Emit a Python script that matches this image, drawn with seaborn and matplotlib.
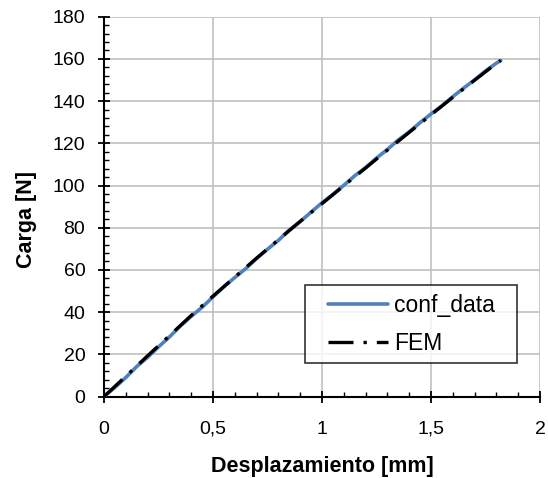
import matplotlib
matplotlib.use("Agg")
import matplotlib.pyplot as plt
import seaborn as sns
import pandas as pd
from matplotlib.ticker import MultipleLocator, FuncFormatter
from matplotlib.legend_handler import HandlerLine2D

# Data
conf_x = [0.0, 0.05, 0.1, 0.15, 0.2, 0.25, 0.3, 0.35, 0.4, 0.45, 0.5, 0.55, 0.6, 0.65,
          0.7, 0.75, 0.8, 0.85, 0.9, 0.95, 1.0, 1.05, 1.1, 1.15, 1.2, 1.25, 1.3, 1.35,
          1.4, 1.45, 1.5, 1.55, 1.6, 1.65, 1.7, 1.75, 1.8, 1.82]
conf_y = [0.0, 4.3, 9.0, 14.2, 18.6, 23.5, 28.2, 33.4, 38.0, 42.3, 47.2, 52.0, 56.4, 60.6,
          65.4, 69.8, 74.0, 78.9, 82.9, 87.4, 91.8, 95.8, 100.1, 104.6, 108.5, 113.0, 117.1, 121.6,
          125.4, 129.8, 133.9, 137.8, 142.1, 146.2, 150.1, 154.3, 158.0, 159.2]
fem_x = [0.0, 0.1, 0.2, 0.3, 0.4, 0.5, 0.6, 0.7, 0.8, 0.9, 1.0, 1.1, 1.2, 1.3, 1.4,
         1.5, 1.6, 1.7, 1.8, 1.82]
fem_y = [0.0, 9.6, 19.3, 28.8, 38.4, 47.6, 56.6, 65.6, 74.3, 83.0, 91.4, 99.9, 108.3, 116.8,
         125.2, 133.5, 141.8, 149.9, 157.9, 159.3]

x_ticks = [0, 0.5, 1, 1.5, 2]
y_ticks = [0, 20, 40, 60, 80, 100, 120, 140, 160, 180]

sns.set_theme(style="white")
plt.rcParams['font.family'] = ['Liberation Sans', 'DejaVu Sans']
plt.rcParams['text.color'] = 'black'
plt.rcParams['axes.labelcolor'] = 'black'

fig = plt.figure(figsize=(5.48, 4.78), dpi=100)
ax = fig.add_axes([0.1898, 0.1705, 0.7956, 0.7945])

df_conf = pd.DataFrame({"x": conf_x, "y": conf_y})
df_fem = pd.DataFrame({"x": fem_x, "y": fem_y})

sns.lineplot(data=df_conf, x="x", y="y", ax=ax, color="#4F81BD", linewidth=2.6,
             label="conf_data", zorder=3)
sns.lineplot(data=df_fem, x="x", y="y", ax=ax, color="black", linewidth=2.4,
             label="FEM", zorder=4, dashes=False)
ax.lines[1].set_dashes([7.5, 3, 1, 3])

ax.set_xlim(0, 2)
ax.set_ylim(0, 180)
ax.set_xticks(x_ticks)
ax.set_yticks(y_ticks)
ax.xaxis.set_minor_locator(MultipleLocator(0.1))
ax.yaxis.set_minor_locator(MultipleLocator(4))
ax.xaxis.set_major_formatter(FuncFormatter(lambda v, p: ("%g" % v).replace(".", ",")))

ax.grid(True, which="major", color="#C0C0C0", linewidth=1.2)
ax.set_axisbelow(True)
for s in ["top", "right"]:
    ax.spines[s].set_visible(False)
for s in ["left", "bottom"]:
    ax.spines[s].set_color("black")
    ax.spines[s].set_linewidth(1.5)

ax.tick_params(which="major", direction="inout", length=9, width=1.3, colors="black",
               labelcolor="black", labelsize=14, left=True, bottom=True)
ax.tick_params(which="minor", direction="in", length=3.6, width=1.0, colors="black",
               left=True, bottom=True)
ax.tick_params(axis="x", which="major", pad=13)
ax.tick_params(axis="y", which="major", pad=9)

ax.set_xlabel("Desplazamiento [mm]", fontsize=15.5, fontweight="bold", color="black")
ax.set_ylabel("Carga [N]", fontsize=15.5, fontweight="bold", color="black")
ax.xaxis.set_label_coords(0.5, -0.157)
ax.yaxis.set_label_coords(-0.154, 0.467)


class ShiftedHandler(HandlerLine2D):
    def __init__(self, shift_frac, **kw):
        super().__init__(**kw)
        self.shift_frac = shift_frac

    def get_xdata(self, legend, xdescent, ydescent, width, height, fontsize):
        xdata, xdata_marker = super().get_xdata(legend, xdescent, ydescent, width, height, fontsize)
        start = xdata[0] + self.shift_frac * width
        return [start, xdata[-1]], xdata_marker


fs_leg = 16.5
h = ShiftedHandler(0.2)
leg = ax.legend(loc="lower left", bbox_to_anchor=(0.461, 0.088, 0.486, 0.205),
                mode="expand", borderaxespad=0, fontsize=fs_leg, frameon=True, fancybox=False,
                handlelength=3.27, borderpad=0.36, labelspacing=0.66, handletextpad=0.26,
                handler_map={ax.lines[0]: h, ax.lines[1]: h})
leg.get_frame().set_edgecolor("black")
leg.get_frame().set_linewidth(1.2)
leg.get_lines()[1].set_dashes([7.5, 3, 1, 3])
for t in leg.get_texts():
    t.set_color("black")

fig.savefig("out.png", dpi=100)
